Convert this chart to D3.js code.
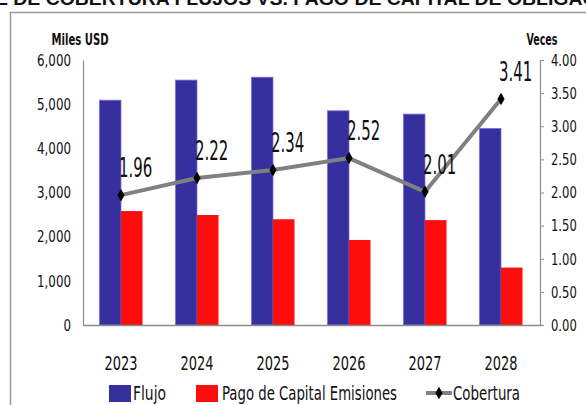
<!DOCTYPE html>
<html>
<head>
<meta charset="utf-8">
<script src="https://cdn.jsdelivr.net/npm/d3@7"></script>
<style>
  body { margin: 0; background: #fff; }
  svg { display: block; }
  text { font-family: "DejaVu Sans Condensed", "Liberation Sans Narrow", sans-serif; fill: #111; }
</style>
</head>
<body>
<div id="chart"></div>
<script>
const years = ["2023", "2024", "2025", "2026", "2027", "2028"];
const flujo = [5090, 5545, 5610, 4850, 4775, 4450];
const pagoCapital = [2580, 2490, 2395, 1925, 2375, 1300];
const cobertura = [1.96, 2.22, 2.34, 2.52, 2.01, 3.41];
const leftTicks = [0, 1000, 2000, 3000, 4000, 5000, 6000];
const rightTicks = [0, 0.5, 1, 1.5, 2, 2.5, 3, 3.5, 4];
const seriesNames = ["Flujo", "Pago de Capital Emisiones", "Cobertura"];
const titleText = "ÍNDICE DE COBERTURA FLUJOS VS. PAGO DE CAPITAL DE OBLIGACIONES";

const width = 586, height = 405;
const plotLeft = 83, plotRight = 540, plotTop = 60, plotBottom = 325;

// the source font is much narrower than what we have, squash glyphs horizontally
function squeeze(sel, f) {
    sel.each(function() {
        const w = this.getComputedTextLength();
        d3.select(this).attr("textLength", w * f).attr("lengthAdjust", "spacingAndGlyphs");
    });
}

const svg = d3.select("#chart").append("svg")
    .attr("width", width)
    .attr("height", height);

// title of the slide, cut off by the top edge like in the source
svg.append("text")
    .attr("x", -58)
    .attr("y", 5)
    .attr("textLength", 715)
    .attr("lengthAdjust", "spacingAndGlyphs")
    .style("font-family", "'Liberation Sans', Arial, sans-serif")
    .style("font-weight", "bold")
    .style("font-size", "18px")
    .text(titleText);

// chart frame
svg.append("path")
    .attr("d", `M10.5,${height} L10.5,12.5 L${width},12.5`)
    .attr("fill", "none")
    .attr("stroke", "#9a9a9a")
    .attr("stroke-width", 1.5);

const x = d3.scaleBand().domain(years).range([plotLeft, plotRight - 1])
    .paddingInner(0.434).paddingOuter(0.217);
const xSub = d3.scaleBand().domain([0, 1]).range([0, x.bandwidth()]);
const yLeft = d3.scaleLinear().domain([0, 6000]).range([plotBottom, plotTop]);
const yRight = d3.scaleLinear().domain([0, 4]).range([plotBottom, plotTop]);

// bars
const groups = svg.selectAll(".year")
    .data(years)
    .enter()
    .append("g")
    .attr("transform", d => `translate(${x(d)},0)`);

groups.append("rect")
    .attr("x", xSub(0))
    .attr("width", xSub.bandwidth())
    .attr("y", (d, i) => yLeft(flujo[i]))
    .attr("height", (d, i) => plotBottom - yLeft(flujo[i]))
    .attr("fill", "#36309f")
    .attr("stroke", "#7a70d8")
    .attr("stroke-width", 0.8);

groups.append("rect")
    .attr("x", xSub(1))
    .attr("width", xSub.bandwidth())
    .attr("y", (d, i) => yLeft(pagoCapital[i]))
    .attr("height", (d, i) => plotBottom - yLeft(pagoCapital[i]))
    .attr("fill", "#ff0d0d");

// left axis
const leftAxis = svg.append("g")
    .attr("transform", `translate(${plotLeft},0)`)
    .call(d3.axisLeft(yLeft).tickValues(leftTicks).tickSize(0).tickPadding(12)
        .tickFormat(d3.format(",")));
leftAxis.select(".domain").attr("stroke", "#8c8c8c").attr("stroke-width", 1.2);
leftAxis.selectAll("text").style("font-size", "16.5px").attr("fill", "#111").call(squeeze, 0.8);

// right axis
const rightAxis = svg.append("g")
    .attr("transform", `translate(${plotRight},0)`)
    .call(d3.axisRight(yRight).tickValues(rightTicks).tickSize(4).tickSizeOuter(0).tickPadding(7)
        .tickFormat(d3.format(".2f")));
rightAxis.select(".domain").attr("stroke", "#8c8c8c").attr("stroke-width", 1.2);
rightAxis.selectAll("line").attr("stroke", "#8c8c8c");
rightAxis.selectAll("text").style("font-size", "16.5px").attr("fill", "#111").call(squeeze, 0.78);

// x axis
const xAxis = svg.append("g")
    .attr("transform", `translate(0,${plotBottom})`)
    .call(d3.axisBottom(x).tickSize(0).tickPadding(31));
xAxis.select(".domain").attr("stroke", "#8c8c8c").attr("stroke-width", 1.5)
    .attr("d", `M${plotLeft},0.5H${plotRight + 2}`);
xAxis.selectAll("text").style("font-size", "19.5px").attr("fill", "#111").call(squeeze, 0.74);

// axis titles
svg.append("text")
    .attr("x", 80).attr("y", 45)
    .attr("text-anchor", "middle")
    .style("font-weight", "bold").style("font-size", "16px")
    .text("Miles USD")
    .call(squeeze, 0.7);
svg.append("text")
    .attr("x", 542).attr("y", 45)
    .attr("text-anchor", "middle")
    .style("font-weight", "bold").style("font-size", "16px")
    .text("Veces")
    .call(squeeze, 0.66);

// cobertura line
const cx = (d, i) => x(years[i]) + x.bandwidth() / 2;
const line = d3.line()
    .x(cx)
    .y(d => yRight(d));

svg.append("path")
    .datum(cobertura)
    .attr("fill", "none")
    .attr("stroke", "#808080")
    .attr("stroke-width", 4)
    .attr("d", line);

const diamond = d3.symbol().type(d3.symbolDiamond).size(45);
svg.selectAll(".marker")
    .data(cobertura)
    .enter()
    .append("path")
    .attr("d", diamond)
    .attr("transform", (d, i) => `translate(${cx(d, i)},${yRight(d)})`)
    .attr("fill", "#000");

svg.selectAll(".label")
    .data(cobertura)
    .enter()
    .append("text")
    .attr("x", (d, i) => cx(d, i) - 2)
    .attr("y", d => yRight(d) - 18)
    .style("font-size", "26px")
    .text(d => d.toFixed(2))
    .call(squeeze, 0.64);

// legend
const legend = svg.append("g").attr("transform", "translate(0,393)");
legend.append("rect").attr("x", 109).attr("y", -8).attr("width", 22).attr("height", 17).attr("fill", "#36309f");
legend.append("text").attr("x", 133).attr("y", 7).style("font-size", "20px").text(seriesNames[0])
    .attr("textLength", 33).attr("lengthAdjust", "spacingAndGlyphs");
legend.append("rect").attr("x", 196).attr("y", -8).attr("width", 22).attr("height", 17).attr("fill", "#ff0d0d");
legend.append("text").attr("x", 222).attr("y", 7).style("font-size", "20px").text(seriesNames[1])
    .attr("textLength", 175).attr("lengthAdjust", "spacingAndGlyphs");
legend.append("line").attr("x1", 426).attr("x2", 452).attr("y1", 0).attr("y2", 0)
    .attr("stroke", "#808080").attr("stroke-width", 4);
legend.append("path").attr("d", diamond).attr("transform", "translate(439,0)").attr("fill", "#000");
legend.append("text").attr("x", 453).attr("y", 7).style("font-size", "20px").text(seriesNames[2])
    .attr("textLength", 67).attr("lengthAdjust", "spacingAndGlyphs");
</script>
</body>
</html>
